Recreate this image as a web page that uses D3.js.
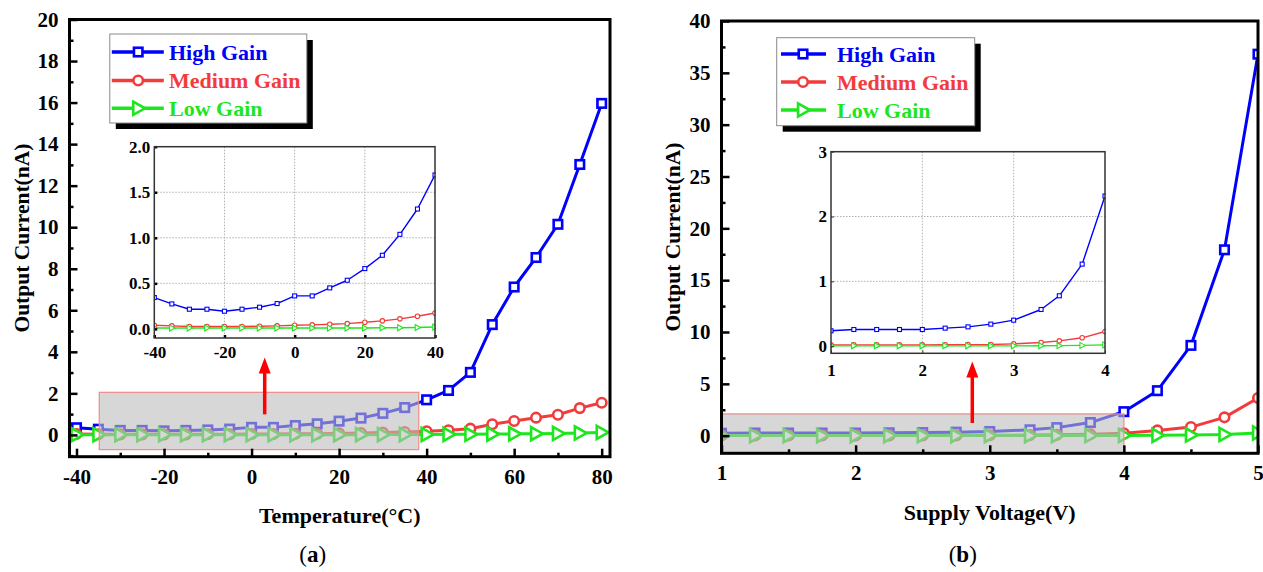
<!DOCTYPE html>
<html><head><meta charset="utf-8">
<script src="https://cdn.jsdelivr.net/npm/d3@7"></script>
<style>
body{margin:0;background:#fff;}
svg{display:block;}
text{font-family:'Liberation Serif','Times New Roman',serif;}
</style>
</head><body>
<svg id="c" width="1263" height="572"></svg>
<script>
// ---------------- data ----------------
const temperature = [-40,-35,-30,-25,-20,-15,-10,-5,0,5,10,15,20,25,30,35,40,45,50,55,60,65,70,75,80];
const tempHigh   = [0.344,0.274,0.216,0.216,0.194,0.216,0.238,0.278,0.362,0.362,0.45,0.534,0.662,0.808,1.038,1.316,1.69,2.14,3.01,5.31,7.12,8.54,10.14,13.02,15.96];
const tempMedium = [0.04,0.033,0.026,0.026,0.026,0.026,0.029,0.033,0.04,0.044,0.051,0.058,0.073,0.088,0.11,0.139,0.175,0.22,0.30,0.51,0.67,0.83,0.97,1.29,1.55];
const tempLow    = [0.01,0.01,0.01,0.01,0.01,0.01,0.01,0.01,0.01,0.01,0.01,0.01,0.01,0.012,0.013,0.015,0.02,0.025,0.03,0.04,0.05,0.06,0.07,0.09,0.12];

const voltage   = [1,1.25,1.5,1.75,2,2.25,2.5,2.75,3,3.3,3.5,3.75,4,4.25,4.5,4.75,5];
const voltHigh   = [0.237,0.257,0.257,0.257,0.257,0.278,0.298,0.34,0.401,0.566,0.777,1.266,2.316,4.34,8.71,17.93,36.8];
const voltMedium = [0.02,0.02,0.02,0.02,0.02,0.022,0.024,0.026,0.036,0.057,0.082,0.129,0.226,0.51,0.83,1.77,3.63];
const voltLow    = [0.005,0.005,0.005,0.005,0.005,0.005,0.005,0.005,0.005,0.006,0.008,0.012,0.02,0.03,0.06,0.12,0.26];

const seriesNames = ["High Gain","Medium Gain","Low Gain"];
const seriesColors = ["#0000ff","#f23c3c","#1ee61e"];
const seriesMarkers = ["square","circle","triangle"];

const tempTicks = [-40,-20,0,20,40,60,80];
const tempMinorTicks = [-30,-10,10,30,50,70];
const currentTicksA = [0,2,4,6,8,10,12,14,16,18,20];
const currentMinorA = [-1,1,3,5,7,9,11,13,15,17,19];
const voltTicks = [1,2,3,4,5];
const voltMinorTicks = [1.5,2.5,3.5,4.5];
const currentTicksB = [0,5,10,15,20,25,30,35,40];
const currentMinorB = [2.5,7.5,12.5,17.5,22.5,27.5,32.5,37.5];

const insetTempTicks = [-40,-20,0,20,40];
const insetCurrentTicksA = [0,0.5,1.0,1.5,2.0];
const insetVoltTicks = [1,2,3,4];
const insetCurrentTicksB = [0,1,2,3];

// zoomed regions [x0,x1,y0,y1] and arrows [x, yFrom, yTo] in data units
const regionA = [-34.8, 38.2, -0.71, 2.05];
const arrowA = [3.0, 0.99, 3.73];
const regionB = [1, 4, -1.65, 2.1];
const arrowB = [2.87, 1.22, 7.16];

// ---------------- drawing ----------------
const svg = d3.select("#c");
const defs = svg.append("defs");
let clipId = 0;

function marker(g, type, x, y, s, color, sw) {
  let p;
  if (type === "square") {
    p = g.append("rect").attr("x", x - s/2).attr("y", y - s/2).attr("width", s).attr("height", s);
  } else if (type === "circle") {
    p = g.append("circle").attr("cx", x).attr("cy", y).attr("r", s/2);
  } else {
    const h = s * 0.6;
    p = g.append("path").attr("d", `M${x - s*0.45},${y - h}L${x + s*0.62},${y}L${x - s*0.45},${y + h}Z`);
  }
  p.attr("fill", "#fff").attr("stroke", color).attr("stroke-width", sw).attr("stroke-linejoin","miter");
}

function clip(x0, y0, w, h) {
  const id = "clip" + (clipId++);
  defs.append("clipPath").attr("id", id).append("rect").attr("x", x0).attr("y", y0).attr("width", w).attr("height", h);
  return `url(#${id})`;
}

function drawSeries(g, xs, series, x, y, lw, ms, msw) {
  series.forEach((vals, i) => {
    const pts = xs.map((d, j) => [d, vals[j]]);
    g.append("path").datum(pts)
      .attr("fill", "none").attr("stroke", seriesColors[i]).attr("stroke-width", lw)
      .attr("stroke-linejoin", "round")
      .attr("d", d3.line().x(d => x(d[0])).y(d => y(d[1])));
  });
  series.forEach((vals, i) => {
    xs.forEach((d, j) => marker(g, seriesMarkers[i], x(d), y(vals[j]), ms[i], seriesColors[i], msw));
  });
}

function drawPanel(c) {
  const x = d3.scaleLinear().domain(c.xDomain).range(c.xRange);
  const y = d3.scaleLinear().domain(c.yDomain).range(c.yRange);
  const X0 = c.xRange[0], X1 = c.xRange[1], Y0 = c.yRange[1], Y1 = c.yRange[0];

  // data
  const plot = svg.append("g").attr("clip-path", clip(X0, Y0, X1 - X0, Y1 - Y0));
  drawSeries(plot, c.xs, c.series, x, y, 3, [8.5, 9.5, 11], 2.6);

  // shaded zoom region
  const r = c.region;
  plot.append("rect")
    .attr("x", x(r[0])).attr("y", y(r[3]))
    .attr("width", x(r[1]) - x(r[0])).attr("height", y(r[2]) - y(r[3]))
    .attr("fill", "#bcbcbc").attr("fill-opacity", 0.6)
    .attr("stroke", "#f08a8a").attr("stroke-width", 1.2);

  // arrow
  const a = c.arrow;
  const ax = x(a[0]), ay0 = y(a[1]), ay1 = y(a[2]);
  svg.append("line").attr("x1", ax).attr("x2", ax).attr("y1", ay0).attr("y2", ay1 + 14)
    .attr("stroke", "#ff0000").attr("stroke-width", 3.5);
  svg.append("path").attr("d", `M${ax},${ay1}L${ax - 6},${ay1 + 16}L${ax + 6},${ay1 + 16}Z`).attr("fill", "#ff0000");

  // axes (ticks inward)
  const fs = 21;
  const yAx = svg.append("g").attr("transform", `translate(${X0},0)`)
    .call(d3.axisLeft(y).tickValues(c.yTicks).tickSize(-8).tickPadding(11));
  svg.append("g").attr("transform", `translate(${X0},0)`)
    .call(d3.axisLeft(y).tickValues(c.yMinor).tickSize(-4).tickFormat(""));
  const xAx = svg.append("g").attr("transform", `translate(0,${Y1})`)
    .call(d3.axisBottom(x).tickValues(c.xTicks).tickSize(-8).tickPadding(12));
  svg.append("g").attr("transform", `translate(0,${Y1})`)
    .call(d3.axisBottom(x).tickValues(c.xMinor).tickSize(-4).tickFormat(""));
  svg.selectAll(".domain").remove();
  svg.selectAll(".tick line").attr("stroke", "#000").attr("stroke-width", 2.5);
  [yAx, xAx].forEach(ax => ax.selectAll("text")
    .attr("font-family", "'Liberation Serif','Times New Roman',serif")
    .attr("font-size", fs).attr("font-weight", "bold").attr("fill", "#000"));
  xAx.selectAll("text").text(d => d < 0 ? "-" + Math.abs(d) : d);

  // frame
  svg.append("rect").attr("x", X0).attr("y", Y0).attr("width", X1 - X0).attr("height", Y1 - Y0)
    .attr("fill", "none").attr("stroke", "#000").attr("stroke-width", 3);

  // inset
  const ins = c.inset;
  const ix = d3.scaleLinear().domain(ins.xDomain).range(ins.xRange);
  const iy = d3.scaleLinear().domain(ins.yDomain).range(ins.yRange);
  const IX0 = ins.xRange[0], IX1 = ins.xRange[1], IY0 = ins.yRange[1], IY1 = ins.yRange[0];
  svg.append("rect").attr("x", IX0).attr("y", IY0).attr("width", IX1 - IX0).attr("height", IY1 - IY0).attr("fill", "#fff");
  const grid = svg.append("g");
  ins.xTicks.slice(1, -1).forEach(t => grid.append("line").attr("x1", ix(t)).attr("x2", ix(t)).attr("y1", IY0).attr("y2", IY1));
  ins.yTicks.slice(1, -1).forEach(t => grid.append("line").attr("y1", iy(t)).attr("y2", iy(t)).attr("x1", IX0).attr("x2", IX1));
  grid.selectAll("line").attr("stroke", "#b0b0b0").attr("stroke-width", 1).attr("stroke-dasharray", "1.5,1.5");
  const ig = svg.append("g").attr("clip-path", clip(IX0, IY0 - 2, IX1 - IX0 + 1, IY1 - IY0 + 2));
  const idx = c.xs.map((d, i) => i).filter(i => c.xs[i] <= ins.xDomain[1]);
  drawSeries(ig, idx.map(i => c.xs[i]), c.series.map(s => idx.map(i => s[i])), ix, iy, 1.4, [4, 4.5, 5], 1.1);
  const iyAx = svg.append("g").attr("transform", `translate(${IX0},0)`)
    .call(d3.axisLeft(iy).tickValues(ins.yTicks).tickSize(-3).tickPadding(4).tickFormat(ins.yFmt));
  const ixAx = svg.append("g").attr("transform", `translate(0,${IY1})`)
    .call(d3.axisBottom(ix).tickValues(ins.xTicks).tickSize(-3).tickPadding(ins.xPad).tickFormat(d => d < 0 ? "-" + Math.abs(d) : d));
  [iyAx, ixAx].forEach(ax => {
    ax.select(".domain").remove();
    ax.selectAll(".tick line").attr("stroke", "#333").attr("stroke-width", 1);
    ax.selectAll("text").attr("font-family", "'Liberation Serif','Times New Roman',serif")
      .attr("font-size", 17).attr("font-weight", "bold").attr("fill", "#000");
  });
  svg.append("rect").attr("x", IX0).attr("y", IY0).attr("width", IX1 - IX0).attr("height", IY1 - IY0)
    .attr("fill", "none").attr("stroke", "#333").attr("stroke-width", 1.5);

  // legend
  const L = c.legend;
  svg.append("rect").attr("x", L.x + 6).attr("y", L.y + 6).attr("width", L.w).attr("height", L.h).attr("fill", "#000");
  svg.append("rect").attr("x", L.x).attr("y", L.y).attr("width", L.w).attr("height", L.h)
    .attr("fill", "#fff").attr("stroke", "#8a8a8a").attr("stroke-width", 1);
  seriesNames.forEach((name, i) => {
    const ry = L.rows[i];
    svg.append("line").attr("x1", L.l0).attr("x2", L.l1).attr("y1", ry).attr("y2", ry)
      .attr("stroke", seriesColors[i]).attr("stroke-width", 3.5);
    marker(svg, seriesMarkers[i], L.m, ry, [8.5, 9.5, 11][i], seriesColors[i], 2.6);
    svg.append("text").attr("x", L.t).attr("y", ry).attr("dy", "0.35em")
      .attr("font-size", 22).attr("font-weight", "bold").attr("fill", seriesColors[i]).text(name);
  });

  // titles
  svg.append("text").attr("transform", `translate(${c.yTitleX},${(Y0 + Y1) / 2}) rotate(-90)`)
    .attr("text-anchor", "middle").attr("dy", "0.35em").attr("font-size", 21.5).attr("font-weight", "bold")
    .text("Output Current(nA)");
  svg.append("text").attr("x", (X0 + X1) / 2).attr("y", c.xTitleY).attr("text-anchor", "middle").attr("dy", "0.35em")
    .attr("font-size", 22).attr("font-weight", "bold").text(c.xTitle);
  const cap = svg.append("text").attr("x", (X0 + X1) / 2 - 27).attr("y", 554).attr("text-anchor", "middle").attr("dy", "0.35em")
    .attr("font-size", 23);
  cap.append("tspan").text("(");
  cap.append("tspan").attr("font-weight", "bold").text(c.caption);
  cap.append("tspan").text(")");
}

drawPanel({
  xs: temperature, series: [tempHigh, tempMedium, tempLow],
  xDomain: [-41.6, 81.9], xRange: [69.5, 610],
  yDomain: [-1.05, 20], yRange: [456.7, 19.5],
  xTicks: tempTicks, xMinor: tempMinorTicks, yTicks: currentTicksA, yMinor: currentMinorA,
  region: regionA, arrow: arrowA,
  inset: { xDomain: [-40, 40], xRange: [154.3, 435], yDomain: [-0.1, 2], yRange: [338, 146.7],
           xTicks: insetTempTicks, yTicks: insetCurrentTicksA, yFmt: d3.format(".1f"), xPad: 8 },
  legend: { x: 109.8, y: 34, w: 197, h: 89, rows: [52, 80.5, 108.3], l0: 111.8, l1: 163.8, m: 138.2, t: 169 },
  yTitleX: 21, xTitle: "Temperature(°C)", xTitleY: 515, caption: "a"
});

drawPanel({
  xs: voltage, series: [voltHigh, voltMedium, voltLow],
  xDomain: [1, 5], xRange: [721.5, 1258],
  yDomain: [-1.7, 40], yRange: [453.3, 21],
  xTicks: voltTicks, xMinor: voltMinorTicks, yTicks: currentTicksB, yMinor: currentMinorB,
  region: regionB, arrow: arrowB,
  inset: { xDomain: [1, 4], xRange: [831, 1105], yDomain: [-0.11, 3], yRange: [353.3, 151.7],
           xTicks: insetVoltTicks, yTicks: insetCurrentTicksB, yFmt: d3.format("d"), xPad: 11 },
  legend: { x: 776.7, y: 37.7, w: 198, h: 88, rows: [54, 82, 110], l0: 781, l1: 826, m: 803, t: 837 },
  yTitleX: 672.5, xTitle: "Supply Voltage(V)", xTitleY: 512, caption: "b"
});
</script>
</body></html>
